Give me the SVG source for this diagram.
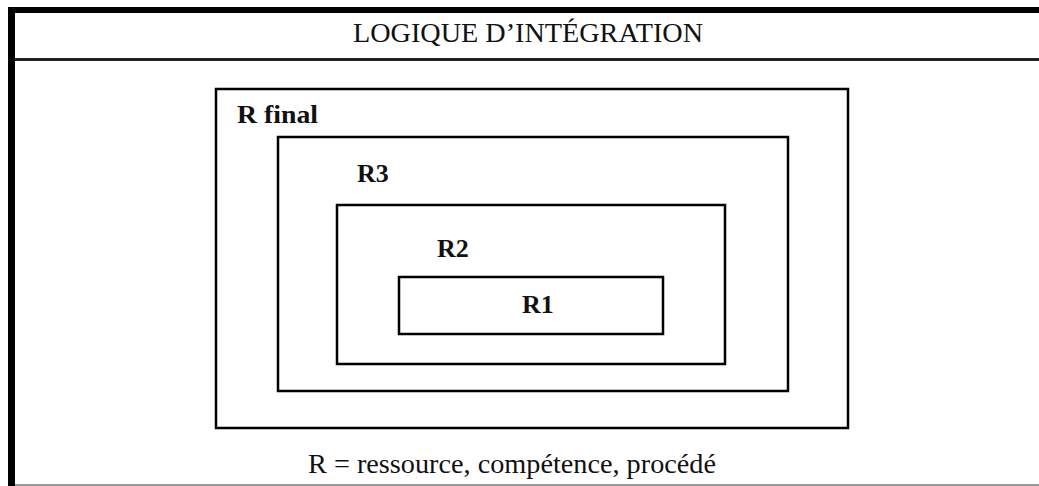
<svg xmlns="http://www.w3.org/2000/svg" width="1039" height="486" viewBox="0 0 1039 486">
<style>
.box{fill:none;stroke:#000;stroke-width:2.5}
.lbl{font-family:'Liberation Serif','Times New Roman','DejaVu Serif',serif;font-weight:bold;font-size:26px;fill:#111}
.txt{font-family:'Liberation Serif','Times New Roman','DejaVu Serif',serif;font-size:27px;fill:#111}
</style>
<rect x="0" y="0" width="1039" height="486" fill="#fff"/>
<g id="frame">
<rect x="8" y="7" width="1031" height="6" fill="#000"/>
<rect x="8" y="7" width="7" height="479" fill="#000"/>
<rect x="15" y="58" width="1024" height="3" fill="#222"/>
<line x1="15" y1="485" x2="1039" y2="485" stroke="#777" stroke-width="1.5"/>
</g>
<g id="title"><text class="txt" x="353" y="42" textLength="350" lengthAdjust="spacingAndGlyphs">LOGIQUE D’INTÉGRATION</text></g>
<g id="connectors"></g>
<g id="r-final"><rect class="box" x="216" y="89" width="632" height="339"/><text class="lbl" x="237" y="123" textLength="81" lengthAdjust="spacingAndGlyphs">R final</text></g>
<g id="r3"><rect class="box" x="278" y="137" width="510" height="254"/><text class="lbl" x="357" y="182">R3</text></g>
<g id="r2"><rect class="box" x="337" y="205" width="388" height="159"/><text class="lbl" x="437" y="257">R2</text></g>
<g id="r1"><rect class="box" x="399" y="277" width="264" height="57"/><text class="lbl" x="522" y="313">R1</text></g>
<g id="legend"><text class="txt" x="308" y="473" style="font-size:28px" textLength="408" lengthAdjust="spacingAndGlyphs">R = ressource, compétence, procédé</text></g>
</svg>
